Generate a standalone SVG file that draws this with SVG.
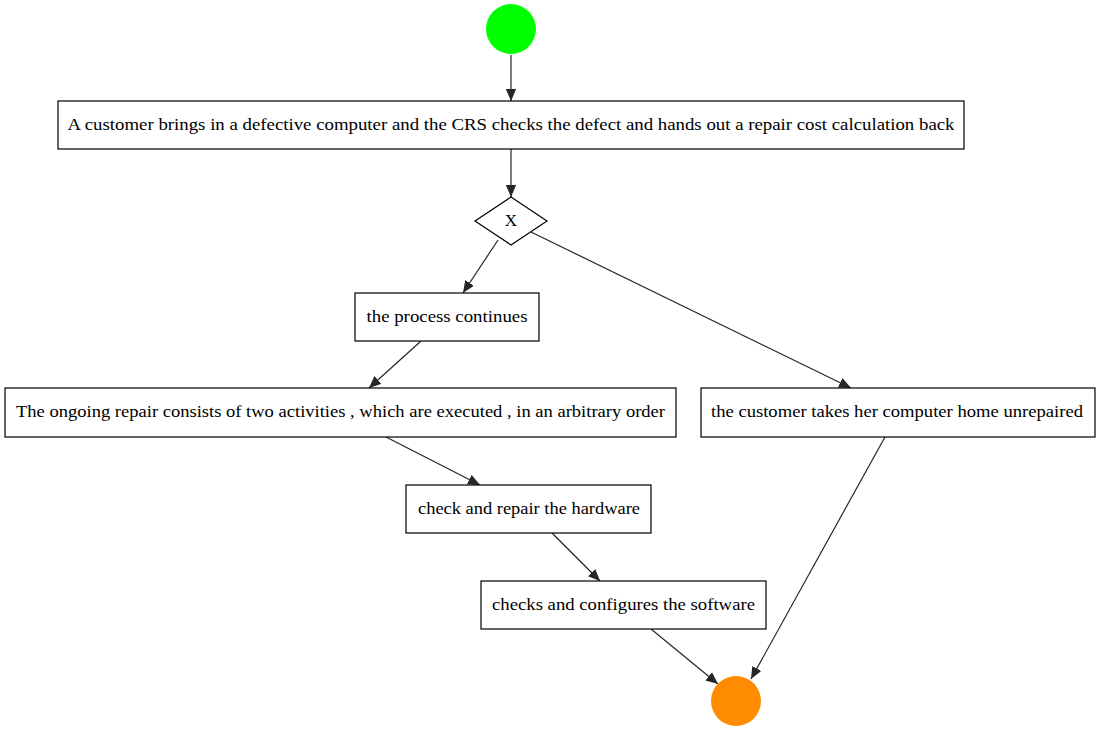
<svg xmlns="http://www.w3.org/2000/svg" width="1101" height="731" viewBox="0 0 1101 731">
  <style>
    .box { fill: #ffffff; stroke: #000000; stroke-width: 1.2; }
    .lbl { font-family: "Liberation Serif", "Times New Roman", serif; font-size: 17px; fill: #000000; text-anchor: middle; }
    .edge { stroke: #262626; stroke-width: 1.2; fill: none; marker-end: url(#arrow); }
  </style>
  <defs>
    <marker id="arrow" markerUnits="userSpaceOnUse" markerWidth="12" markerHeight="11" viewBox="0 0 12 11" refX="12" refY="5.5" orient="auto">
      <path d="M0,0.3 L12,5.5 L0,10.7 Z" fill="#262626"/>
    </marker>
  </defs>
  <rect width="1101" height="731" fill="#ffffff"/>

  <g id="edges">
    <line class="edge" x1="511" y1="55" x2="511" y2="101"/>
    <line class="edge" x1="511" y1="149" x2="511" y2="197"/>
    <line class="edge" x1="498" y1="240" x2="463" y2="293"/>
    <line class="edge" x1="531" y1="232" x2="851" y2="388"/>
    <line class="edge" x1="421" y1="341" x2="369" y2="388"/>
    <line class="edge" x1="386" y1="437" x2="480" y2="485"/>
    <line class="edge" x1="552" y1="533" x2="600" y2="581"/>
    <line class="edge" x1="651" y1="629" x2="718" y2="684"/>
    <line class="edge" x1="885" y1="437" x2="751" y2="679"/>
  </g>

  <g id="start">
    <circle cx="511" cy="29" r="25" fill="#00ff00"/>
  </g>

  <g id="receive">
    <rect class="box" x="58" y="101" width="906" height="48"/>
    <text class="lbl" x="511" y="130" textLength="887" lengthAdjust="spacingAndGlyphs">A customer brings in a defective computer and the CRS checks the defect and hands out a repair cost calculation back</text>
  </g>

  <g id="decision">
    <polygon class="box" points="511,197 547,221 511,245 475,221"/>
    <text class="lbl" x="511" y="226">X</text>
  </g>

  <g id="continue">
    <rect class="box" x="355" y="293" width="184" height="48"/>
    <text class="lbl" x="447" y="322" textLength="161" lengthAdjust="spacingAndGlyphs">the process continues</text>
  </g>

  <g id="ongoing">
    <rect class="box" x="5" y="388" width="671" height="49"/>
    <text class="lbl" x="340.5" y="417" textLength="649" lengthAdjust="spacingAndGlyphs">The ongoing repair consists of two activities , which are executed , in an arbitrary order</text>
  </g>

  <g id="unrepaired">
    <rect class="box" x="701" y="388" width="394" height="49"/>
    <text class="lbl" x="897" y="417" textLength="372" lengthAdjust="spacingAndGlyphs">the customer takes her computer home unrepaired</text>
  </g>

  <g id="hardware">
    <rect class="box" x="406" y="485" width="245" height="48"/>
    <text class="lbl" x="529" y="514" textLength="222" lengthAdjust="spacingAndGlyphs">check and repair the hardware</text>
  </g>

  <g id="software">
    <rect class="box" x="481" y="581" width="285" height="48"/>
    <text class="lbl" x="623.5" y="610" textLength="263" lengthAdjust="spacingAndGlyphs">checks and configures the software</text>
  </g>

  <g id="end">
    <circle cx="736" cy="701" r="25" fill="#ff8c00"/>
  </g>
</svg>
